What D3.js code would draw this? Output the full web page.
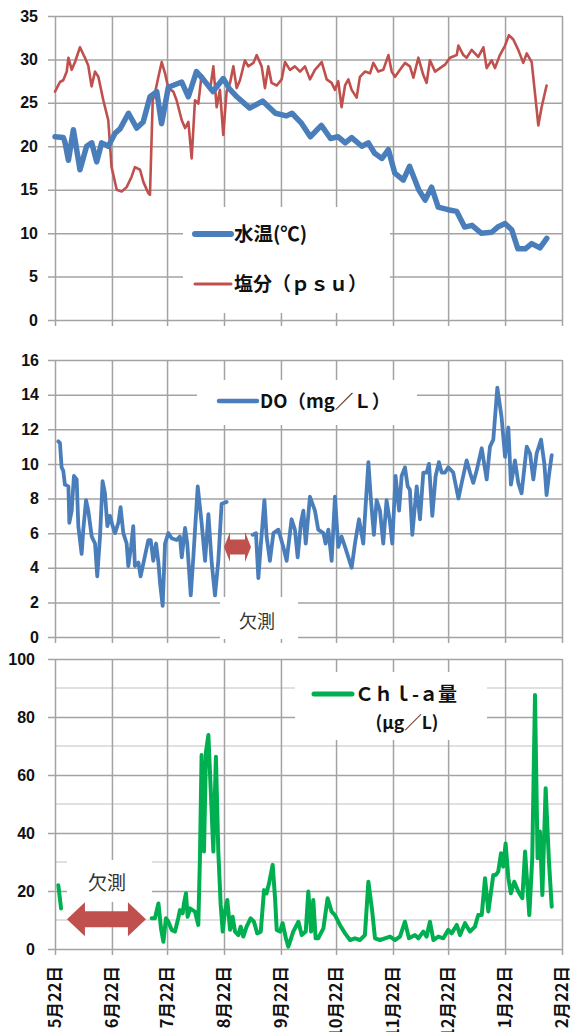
<!DOCTYPE html>
<html>
<head>
<meta charset="utf-8">
<script src="https://d3js.org/d3.v7.min.js"></script>
<style>
    html, body {
        margin: 0;
        padding: 0;
        background: #fff;
    }
    svg { display: block; }
</style>
</head>
<body>
<script>
    var width = 575;
    var height = 1032;

    // every series is [days since 5/22, value]
    var startDate = new Date(2012, 4, 22);
    var endDate = new Date(2013, 1, 22);
    var monthLabels = ["5月22日", "6月22日", "7月22日", "8月22日", "9月22日", "10月22日", "11月22日", "12月22日", "1月22日", "2月22日"];

    var waterTemp = [[0,21.1],[4.5,21],[5.4,20.5],[7.3,18.4],[10,21.9],[13.6,17.3],[17.2,20],[20,20.4],[22.7,18.2],[25.4,20.4],[29,20],[32.7,21.5],[35.4,22],[40,23.8],[44.5,22.1],[48,22.8],[51.7,25.7],[55.4,26.3],[58,22.6],[61.7,26.8],[69,27.4],[72.6,25.7],[77,28.6],[80.7,27.7],[86,26.3],[91.6,27.8],[95,26.6],[99,25.7],[106,24.4],[113,25.2],[120,23.8],[126,23.5],[129,23.8],[134,22.7],[139,21.1],[145,22.4],[150,20.9],[154,21.1],[158,20.4],[161.5,21],[167,20],[170.5,20.4],[174,19.2],[178,18.6],[181.5,19.6],[185,16.9],[189.6,16.1],[193,17.7],[198,15],[201.5,13.8],[205,15.3],[208.6,13],[214,12.7],[218.7,12.5],[223,10.7],[227,10.9],[232,10],[237.7,10.1],[241,10.7],[245,11.1],[248.6,10.4],[252,8.2],[256,8.2],[259.5,8.8],[264,8.3],[267.7,9.4]];

    var salinity = [[0,26.3],[2.7,27.4],[4.5,27.6],[6.4,28.6],[7.3,30.2],[9.1,28.8],[10.9,29.7],[13.6,31.4],[16.3,30.2],[18.1,29.3],[19.9,26.9],[21.8,28.6],[23.6,28],[26.3,25.3],[29,23],[30.8,17.6],[33.6,15],[36.3,14.8],[39,15.3],[41.7,16.5],[43.5,17.6],[46.3,17.3],[48.1,15.9],[50.8,14.6],[51.7,14.4],[53.2,25.3],[54.4,26.1],[56.3,28],[58.1,29.7],[59.9,28.4],[61.7,26.7],[64.4,26.3],[66.2,25.3],[69,23],[70.8,22.1],[72.6,22.8],[74.4,18.6],[76.2,25.3],[78,24.9],[79.8,28.2],[81.7,27.6],[84.4,26.5],[86.2,29.2],[88,24.5],[89.8,26.5],[91.6,21.3],[93.4,26.3],[95.3,27.3],[97.1,29.2],[98.9,26.7],[100.7,27.6],[103.4,29.9],[105.2,29.2],[108,29.6],[109.8,30.5],[112.5,29.2],[114.3,26.7],[116.1,29.2],[117.9,27.3],[120.7,27],[123.4,27.7],[125.2,29.7],[127.9,28.8],[130.6,29.2],[133.4,28.6],[136.1,29.2],[138.8,27.7],[141.5,28.8],[145.2,29.7],[147.9,27.7],[150.6,27.3],[152.4,26.5],[154.2,27.5],[156,24.5],[157.9,27],[159.7,27.7],[161.5,26.5],[164.2,25.6],[166,28],[168.7,28.6],[171.5,28.4],[173.3,29.6],[176,28.6],[178.7,28.8],[181.5,30.5],[183.3,28.6],[185.1,28],[187.8,28.8],[190.5,29.6],[193.2,29.2],[195.1,27.9],[197.8,30.2],[200.5,28.2],[202.3,27.3],[204.1,29.9],[206.9,28.6],[209.6,29],[212.3,29.4],[215,30.2],[218.7,30.5],[219.6,31.6],[222.3,30.5],[224.1,30.2],[226.8,31.1],[230.4,30.3],[233.2,31.4],[235,29],[237.7,29.9],[239.5,29],[242.2,30.5],[245,31.6],[247.1,32.8],[249.5,32.3],[252.2,31.1],[254.9,29.6],[256.8,30.7],[259.5,29.7],[261.3,26.1],[263.1,22.4],[264.9,24.5],[267.6,27]];

    // null = 欠測
    var dissolvedO2 = [[1.8,11.3],[2.7,11.2],[3.6,9.8],[4.5,9.6],[5.4,8.8],[7.3,8.7],[7.8,6.6],[9.1,7.3],[10.3,9.3],[11.8,9.1],[12.7,6.4],[14.5,4.8],[15.4,6.2],[16.9,7.9],[18.1,7.3],[20,5.8],[21.8,5.4],[23,3.5],[24.5,5.8],[25.9,9],[27.2,8.3],[28.5,6.4],[29.9,7],[31.4,6.4],[32.7,6],[34.5,6.6],[35.7,7.5],[37.2,6],[39,5.4],[39.9,4.1],[41.4,5.2],[42.6,6.4],[43.5,4.1],[45.4,4.3],[46.6,3.5],[48.4,4.4],[50.8,5.6],[52.1,5.6],[53.5,4.4],[55,5.4],[56.3,4.3],[57.2,3.1],[58.6,1.8],[59.9,5.4],[61.7,6],[63.5,5.7],[66.2,5.6],[68,5.8],[69,4.6],[70.8,6.3],[72,5.4],[73.9,2.4],[75.3,4.6],[77.7,8.7],[79.8,6.6],[81.7,4.4],[83.5,7.1],[85.3,4.3],[87.1,2.4],[88.9,4.4],[90.7,7.7],[93.4,7.8],[100,null],[107.6,5.9],[109.4,6],[110.7,3.4],[112.1,5.4],[114,7.9],[115.2,5.8],[117,4.4],[118.9,6],[121.6,6.2],[124.3,5.2],[126.1,4.4],[128.8,6.8],[130.6,6.2],[132.1,4.6],[133.9,6.6],[135.2,7.3],[136.5,5.4],[138.8,8.1],[141.5,7.3],[143.3,6.2],[146.1,6],[147.3,5.4],[148.8,6.2],[150.6,4.4],[152.4,8.1],[154.2,5.2],[156,5.8],[157.9,5.2],[159.7,4.6],[161.5,4],[163.3,5.4],[165.5,6.8],[167.8,5.4],[170.6,10.1],[172,7.9],[173.6,5.9],[175.1,7.9],[176.9,7.3],[178.7,5.4],[180.5,7.9],[182.4,6.6],[183.6,5.4],[185.4,9.3],[187.3,7.3],[188.7,9.3],[190.5,9.8],[192,8.7],[193.2,8.5],[194.5,5.9],[196.9,8.7],[198.7,6.8],[200.5,9.5],[202.3,9.5],[203.6,10],[205.4,7],[207.2,9.3],[209,10.1],[210.5,9.5],[212.3,9.5],[214.1,9.8],[216.8,9.5],[219.6,8],[221.4,8.9],[224.1,10.2],[225.9,9.5],[227.7,8.9],[229.5,9.6],[232.3,10.9],[235,9.1],[236.8,11],[238.6,11.4],[240.8,14.4],[243.1,12.7],[245,10.4],[246.8,12.1],[248.2,8.8],[250.4,10.2],[252.2,8.9],[254,8.3],[256.8,11],[258.6,10.6],[260.4,9.1],[262.2,10.6],[264.6,11.4],[266.4,10],[267.6,8.2],[269.1,9.5],[270.4,10.5]];

    var chla = [[1.8,22],[3.3,14],[20,null],[52.6,10.6],[54.4,10.6],[56.3,15.7],[57.7,7.1],[59,2.5],[60.4,10.6],[61.7,9.4],[63.5,6.6],[65.3,6],[67.1,10.6],[68,13.4],[69.5,12.3],[70.2,15.7],[71.3,19.2],[72.2,11.1],[73.5,14],[74.9,13.4],[76.2,12.9],[78,8.3],[78.9,31.3],[79.8,66.9],[81.1,33.6],[82.2,68],[83.5,73.8],[84.7,56],[86.2,33.6],[87.6,66.3],[88.9,33.6],[90.2,15.2],[91.3,6],[92.5,12.9],[93.8,16.9],[95.3,6.6],[96.7,11.1],[98,6],[99.8,4.8],[101.1,7.7],[102.5,4.3],[104.3,7.7],[106.5,10.6],[108.3,9.4],[110.1,5.4],[112,6],[113.8,20.3],[115.2,19.2],[116.7,23.2],[118.5,29],[119.8,17.5],[120.7,6.6],[122.5,6],[123.9,8.9],[125.7,3.7],[127,0.8],[127.9,2.5],[129.7,6],[132.5,9.4],[134.3,4.8],[136.5,6],[137.9,19.8],[139.4,6],[140.6,16.9],[141.9,3.7],[143.3,3.7],[146.1,7.1],[148.4,17.5],[150.6,12.9],[152.4,11.7],[155.1,8.3],[157.9,5.4],[160.6,3.1],[163.3,3.7],[166,3.1],[168.7,4.8],[170.6,23.2],[172.7,12.9],[174.2,3.7],[176.9,3.1],[179.6,3.7],[182.4,4.3],[185.1,3.1],[187.8,4.3],[190.5,9.4],[192.7,3.7],[196,4.8],[197.8,3.7],[200.5,6],[202.3,4.3],[204.1,9.4],[206,3.1],[208.7,4.3],[211.4,3.7],[214.1,6.6],[215.9,5.4],[218.7,8.3],[220.5,4.8],[223.2,8.9],[225.9,6],[228.6,7.7],[230.4,11.7],[232.3,11.7],[234.1,24.4],[235.9,12.9],[238.6,25.5],[239.9,25.5],[241.3,26.7],[242.8,33],[244,28.4],[245.3,36.4],[246.8,24.4],[248.2,19.2],[250,23.2],[252.2,19.8],[254.4,17.5],[255.9,33.6],[258.2,11.7],[259.8,31.3],[261.3,87.6],[262.7,31.3],[264,40.5],[265.3,18.6],[267.1,55.4],[268.9,30.1],[270.4,14.6]];

    var tempTicks = [0, 5, 10, 15, 20, 25, 30, 35];
    var doTicks = [0, 2, 4, 6, 8, 10, 12, 14, 16];
    var chlTicks = [0, 20, 40, 60, 80, 100];
    var chlMinor = [10, 30, 50, 70, 90];

    // missing-data spans [from day, to day, value level]
    var doGap = [92, 106.7, 5.2];
    var chlGap = [6.5, 49.5, 10.3];

    var X0 = 55, X1 = 562;
    var gridColor = "#a3a3a3";
    var numFont = "'Liberation Sans', Arial, sans-serif";
    var jpFont = "'Noto Sans CJK JP', sans-serif";

    var svg = d3.select("body").append("svg")
        .attr("width", width)
        .attr("height", height);
    svg.append("rect").attr("width", width).attr("height", height).attr("fill", "#fff");

    var x = d3.scaleTime().domain([startDate, endDate]).range([X0, X1]);
    var monthTicks = d3.range(monthLabels.length).map(function (i) { return d3.timeMonth.offset(startDate, i); });
    function dayToDate(d) { return new Date(startDate.getTime() + d * 864e5); }

    function drawPanel(top, bottom, domain, ticks, labelEnd, minor) {
        var y = d3.scaleLinear().domain(domain).range([bottom, top]);
        var g = svg.append("g");

        if (minor) {
            g.selectAll(".minor").data(minor).enter().append("line")
                .attr("x1", X0).attr("x2", X1)
                .attr("y1", function (d) { return y(d); })
                .attr("y2", function (d) { return y(d); })
                .attr("stroke", "#d6d6d6").attr("stroke-width", 1.4);
        }

        var ya = g.append("g")
            .attr("transform", "translate(" + X1 + ",0)")
            .call(d3.axisLeft(y).tickValues(ticks).tickSize(X1 - X0 + 7).tickPadding(48 - labelEnd));
        ya.select(".domain").remove();
        ya.selectAll("line").attr("stroke", gridColor).attr("stroke-width", 1.5);
        ya.selectAll("text")
            .attr("fill", "#111")
            .style("font-family", numFont)
            .style("font-size", "16px")
            .style("font-weight", "bold");

        var xa = g.append("g")
            .attr("transform", "translate(0," + top + ")")
            .call(d3.axisBottom(x).tickValues(monthTicks).tickSize(bottom - top + 6).tickFormat(""));
        xa.select(".domain").remove();
        xa.selectAll("line").attr("stroke", gridColor).attr("stroke-width", 1.5);

        return y;
    }

    function whiteBox(x0, y0, x1, y1) {
        svg.append("rect").attr("x", x0).attr("y", y0)
            .attr("width", x1 - x0).attr("height", y1 - y0)
            .attr("fill", "#fff");
    }

    function drawLine(data, y, color, w) {
        var line = d3.line()
            .defined(function (d) { return d[1] != null; })
            .x(function (d) { return x(dayToDate(d[0])); })
            .y(function (d) { return y(d[1]); });
        svg.append("path").datum(data)
            .attr("d", line)
            .attr("fill", "none")
            .attr("stroke", color)
            .attr("stroke-width", w)
            .attr("stroke-linejoin", "round")
            .attr("stroke-linecap", "round");
    }

    function legendItem(x0, x1, yy, color, w, label, size) {
        svg.append("line").attr("x1", x0).attr("x2", x1).attr("y1", yy).attr("y2", yy)
            .attr("stroke", color).attr("stroke-width", w).attr("stroke-linecap", "round");
        svg.append("text").attr("x", x1 + 3).attr("y", yy).attr("dy", "0.36em")
            .style("font-family", jpFont).style("font-size", size + "px").style("font-weight", "bold")
            .attr("fill", "#111").text(label);
    }

    function gapArrow(gap, y, H, h, L) {
        var a = x(dayToDate(gap[0])), b = x(dayToDate(gap[1])), c = y(gap[2]);
        var pts = [[a, c], [a + L, c - H], [a + L, c - h], [b - L, c - h], [b - L, c - H],
                   [b, c], [b - L, c + H], [b - L, c + h], [a + L, c + h], [a + L, c + H]];
        svg.append("polygon").attr("points", pts.map(function (p) { return p.join(","); }).join(" "))
            .attr("fill", "#c0504d");
    }

    function missingLabel(cx, cy, size) {
        svg.append("text").attr("x", cx).attr("y", cy).attr("text-anchor", "middle")
            .style("font-family", jpFont).style("font-size", size + "px")
            .attr("fill", "#333").text("欠測");
    }

    // ---- 水温 / 塩分 ----
    var yT = drawPanel(16, 320, [0, 35], tempTicks, 38);
    whiteBox(183, 207, 390, 313);
    drawLine(salinity, yT, "#c0504d", 2.6);
    drawLine(waterTemp, yT, "#4a7ebb", 5.5);
    legendItem(195, 231, 234, "#4a7ebb", 6, "水温(℃)", 19.5);
    legendItem(195, 231, 284, "#c0504d", 3, "塩分（ｐｓｕ）", 19);

    // ---- DO ----
    var yD = drawPanel(360, 637, [0, 16], doTicks, 39);
    whiteBox(197, 380, 417, 425);
    whiteBox(220, 597, 298, 639);
    drawLine(dissolvedO2, yD, "#4a7ebb", 3.8);
    legendItem(219, 257, 401, "#4a7ebb", 4.5, "DO（mg／Ｌ）", 18.5);
    gapArrow(doGap, yD, 15, 7.5, 6);
    missingLabel(257, 628, 18);

    // ---- Chl-a ----
    var yC = drawPanel(659, 949, [0, 100], chlTicks, 35, chlMinor);
    whiteBox(295, 672, 487, 740);
    whiteBox(67, 860, 152, 902);
    drawLine(chla, yC, "#00b050", 4);
    legendItem(314, 352, 694, "#00b050", 5, "Ｃｈｌ-ａ量", 19);
    svg.append("text").attr("x", 407).attr("y", 723).attr("dy", "0.36em").attr("text-anchor", "middle")
        .style("font-family", jpFont).style("font-size", "17.5px").style("font-weight", "bold")
        .attr("fill", "#111").text("(μg／L)");
    gapArrow(chlGap, yC, 17, 8, 18);
    missingLabel(107, 890, 19);

    // date labels under the last panel
    svg.append("g").selectAll("text").data(monthTicks).enter().append("text")
        .attr("transform", function (d) { return "translate(" + x(d) + ",966) rotate(-90)"; })
        .attr("dy", "0.36em")
        .attr("text-anchor", "end")
        .style("font-family", jpFont)
        .style("font-size", "16.5px")
        .style("font-weight", "bold")
        .attr("fill", "#111")
        .text(function (d, i) { return monthLabels[i]; });
</script>
</body>
</html>
